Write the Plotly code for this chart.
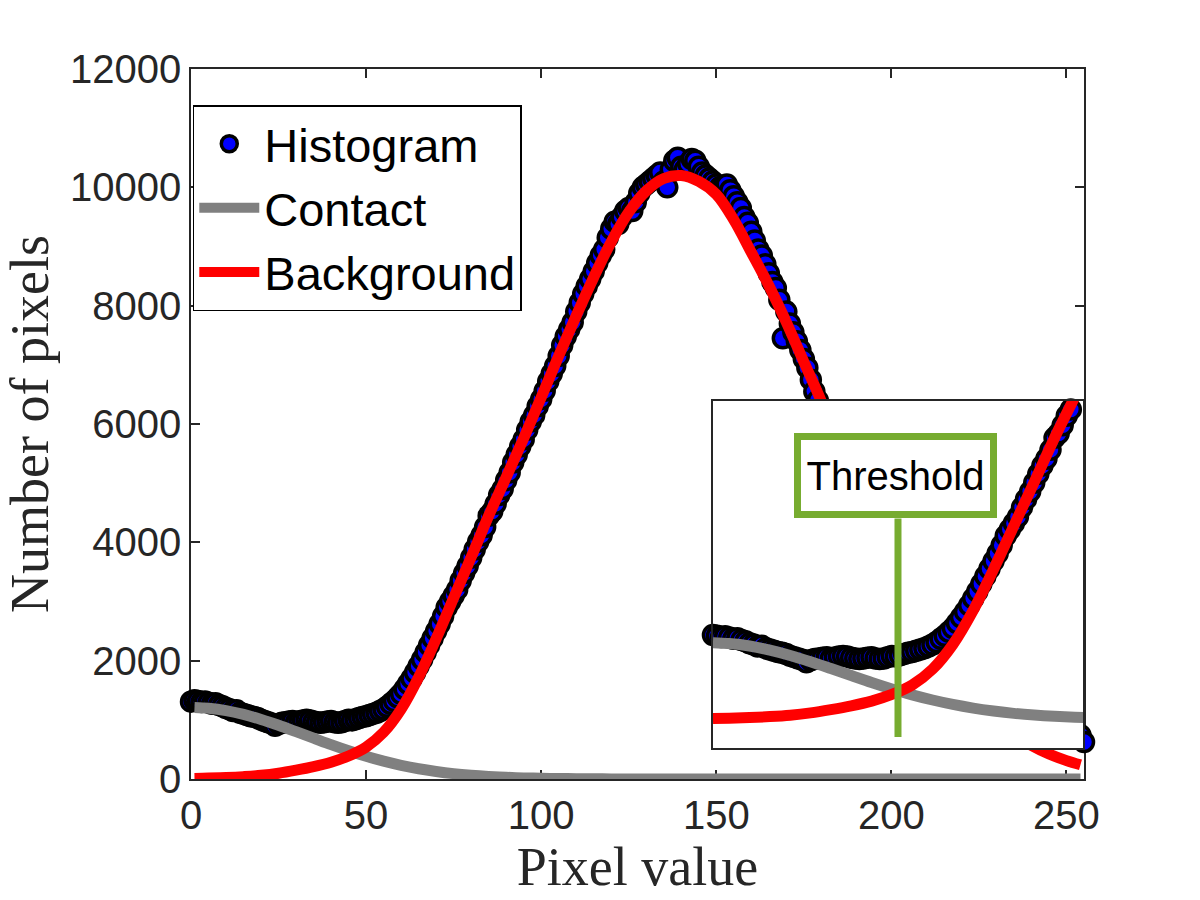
import plotly.graph_objects as go

# ---------------- data ----------------
PIXEL_VALUES = list(range(256))
HIST_COUNTS = [
    1307, 1330, 1320, 1300, 1310, 1290, 1270, 1280, 1250, 1230, 1200,
    1180, 1150, 1160, 1120, 1100, 1080, 1060, 1050, 1030, 1000,
    980, 960, 940, 900, 930, 950, 960, 970, 980, 960,
    975, 990, 1000, 990, 970, 960, 950, 960, 970, 980,
    960, 950, 960, 980, 1000, 990, 1010, 1030, 1050, 1060,
    1080, 1100, 1120, 1150, 1180, 1220, 1270, 1320, 1380, 1440,
    1520, 1610, 1700, 1800, 1910, 2020, 2140, 2260, 2380, 2500,
    2620, 2750, 2900, 3000, 3100, 3200, 3350, 3480, 3600, 3740,
    3880, 4010, 4120, 4260, 4450, 4520, 4650, 4800, 4900, 5050,
    5180, 5350, 5480, 5620, 5740, 5900, 6040, 6150, 6300, 6420,
    6560, 6720, 6850, 6980, 7150, 7330, 7480, 7600, 7720, 7900,
    8050, 8200, 8330, 8450, 8580, 8720, 8850, 8950, 9150, 9300,
    9420, 9380, 9500, 9600, 9650, 9600, 9750, 9900, 10000, 10050,
    10100, 10150, 10200, 10250, 10100, 10000, 10300, 10450, 10500, 10350,
    10300, 10400, 10480, 10450, 10350, 10250, 10200, 10150, 10100, 10050,
    10000, 10000, 10050, 9950, 9850, 9750, 9650, 9500, 9400, 9250,
    9100, 8950, 8850, 8700, 8550, 8400, 8300, 8100, 7450, 7900,
    7700, 7550, 7400, 7250, 7100, 6950, 6750, 6550, 6400, 6250,
    6100, 5950, 5800, 5650, 5500, 5380, 5250, 5100, 4950, 4820,
    4680, 4550, 4420, 4300, 4170, 4050, 3920, 3800, 3680, 3560,
    3440, 3330, 3210, 3100, 2990, 2880, 2770, 2660, 2560, 2460,
    2370, 2270, 2180, 2090, 2000, 1920, 1840, 1760, 1690, 1620,
    1550, 1490, 1430, 1370, 1320, 1270, 1220, 1180, 1140, 1100,
    1060, 1030, 1000, 975, 950, 925, 905, 885, 865, 850,
    835, 820, 810, 800, 790, 780, 775, 770, 765, 760,
    755, 750, 745, 740, 625,
]

CURVE_X = [1, 5, 10, 15, 20, 25, 30, 35, 40, 45, 50, 55, 60, 65, 70, 75, 80,
           85, 90, 95, 100, 105, 110, 115, 120, 125, 130, 135, 140, 145, 150,
           155, 160, 165, 170, 175, 180, 185, 190, 195, 200, 205, 210, 215,
           220, 225, 230, 235, 240, 245, 250, 254]
CONTACT_FIT = [1210, 1196, 1156, 1091, 1007, 908, 800, 690, 580, 477, 383, 302,
               232, 174, 128, 91, 64, 44, 29, 19, 12, 8, 5, 3, 2, 1, 1, 0, 0, 0,
               0, 0, 0, 0, 0, 0, 0, 0, 0, 0, 0, 0, 0, 0, 0, 0, 0, 0, 0, 0, 0, 0]
BACKGROUND_FIT = [10, 15, 25, 40, 62, 98, 150, 210, 285, 390, 540, 790, 1180,
                  1720, 2370, 3060, 3750, 4450, 5100, 5760, 6450, 7150, 7830,
                  8480, 9080, 9580, 9940, 10150, 10200, 10100, 9880, 9450, 8900,
                  8340, 7720, 7050, 6380, 5600, 4880, 4190, 3550, 2970, 2440,
                  1985, 1590, 1255, 975, 750, 567, 422, 311, 240]

THRESHOLD = 46.5
X_TICKS = [0, 50, 100, 150, 200, 250]
Y_TICKS = [0, 2000, 4000, 6000, 8000, 10000, 12000]

# ---------------- styles ----------------
AX = "#262626"
GREEN = "#77AC30"
marker_style = dict(size=19, color="#0000FF", line=dict(color="black", width=3.5))

fig = go.Figure()

# main axes
fig.add_trace(go.Scatter(x=PIXEL_VALUES, y=HIST_COUNTS, mode="markers", name="Histogram",
                         marker=marker_style, cliponaxis=False))
fig.add_trace(go.Scatter(x=CURVE_X, y=CONTACT_FIT, mode="lines", name="Contact",
                         line=dict(color="#808080", width=11, shape="spline"),
                         cliponaxis=False))
fig.add_trace(go.Scatter(x=CURVE_X, y=BACKGROUND_FIT, mode="lines", name="Background",
                         line=dict(color="#FF0000", width=11, shape="spline"),
                         cliponaxis=False))

# inset axes (zoom of the valley)
fig.add_trace(go.Scatter(x=PIXEL_VALUES, y=HIST_COUNTS, mode="markers", showlegend=False,
                         marker=marker_style, cliponaxis=False, xaxis="x2", yaxis="y2"))
fig.add_trace(go.Scatter(x=CURVE_X, y=CONTACT_FIT, mode="lines", showlegend=False,
                         line=dict(color="#808080", width=11, shape="spline"),
                         xaxis="x2", yaxis="y2"))
fig.add_trace(go.Scatter(x=CURVE_X, y=BACKGROUND_FIT, mode="lines", showlegend=False,
                         line=dict(color="#FF0000", width=11, shape="spline"),
                         xaxis="x2", yaxis="y2"))

# threshold marker inside the inset
fig.add_shape(type="line", xref="x2", yref="paper", x0=THRESHOLD, x1=THRESHOLD,
              y0=0.059, y1=0.367, line=dict(color=GREEN, width=7), layer="above")
fig.add_annotation(text="Threshold", xref="paper", yref="paper", x=0.7889, y=0.4269,
                   xanchor="center", yanchor="middle", showarrow=False,
                   font=dict(family="Liberation Sans, Arial, sans-serif", size=40, color="black"),
                   bgcolor="white", bordercolor=GREEN, borderwidth=7, borderpad=0,
                   width=189, height=71)

axis_common = dict(showline=True, linecolor=AX, linewidth=1.5, mirror="ticks",
                   ticks="inside", ticklen=9, tickwidth=1.5, tickcolor=AX,
                   showgrid=False, zeroline=False, layer="below traces",
                   automargin=False)

fig.update_layout(
    width=1200, height=900,
    margin=dict(l=191, r=116, t=69, b=121),
    paper_bgcolor="white", plot_bgcolor="white",
    xaxis=dict(range=[0, 255], tickvals=X_TICKS, domain=[0, 1], tickformat="d",
               tickfont=dict(family="Liberation Sans, Arial", size=40, color=AX),
               title=dict(text="Pixel value", standoff=0,
                          font=dict(family="Liberation Serif, serif", size=54, color=AX)),
               **axis_common),
    yaxis=dict(range=[0, 12000], tickvals=Y_TICKS, domain=[0, 1], tickformat="d",
               tickfont=dict(family="Liberation Sans, Arial", size=40, color=AX),
               title=dict(text="Number of pixels", standoff=26,
                          font=dict(family="Liberation Serif, serif", size=54, color=AX)),
               **axis_common),
    xaxis2=dict(range=[1, 92], domain=[0.5845, 0.9989], anchor="y2", automargin=False,
                showline=True, linecolor=AX, linewidth=1.5, mirror=True,
                ticks="", showticklabels=False, showgrid=False, zeroline=False),
    yaxis2=dict(range=[-458, 5040], domain=[0.0436, 0.533], anchor="x2", automargin=False,
                showline=True, linecolor=AX, linewidth=1.5, mirror=True,
                ticks="", showticklabels=False, showgrid=False, zeroline=False),
    legend=dict(x=0.002, y=0.949, xanchor="left", yanchor="top",
                bgcolor="white", bordercolor="black", borderwidth=1.5,
                font=dict(family="Liberation Sans, Arial", size=47, color="black"),
                itemwidth=60, tracegroupgap=0),
    showlegend=True,
)

fig.write_html("out.html")
